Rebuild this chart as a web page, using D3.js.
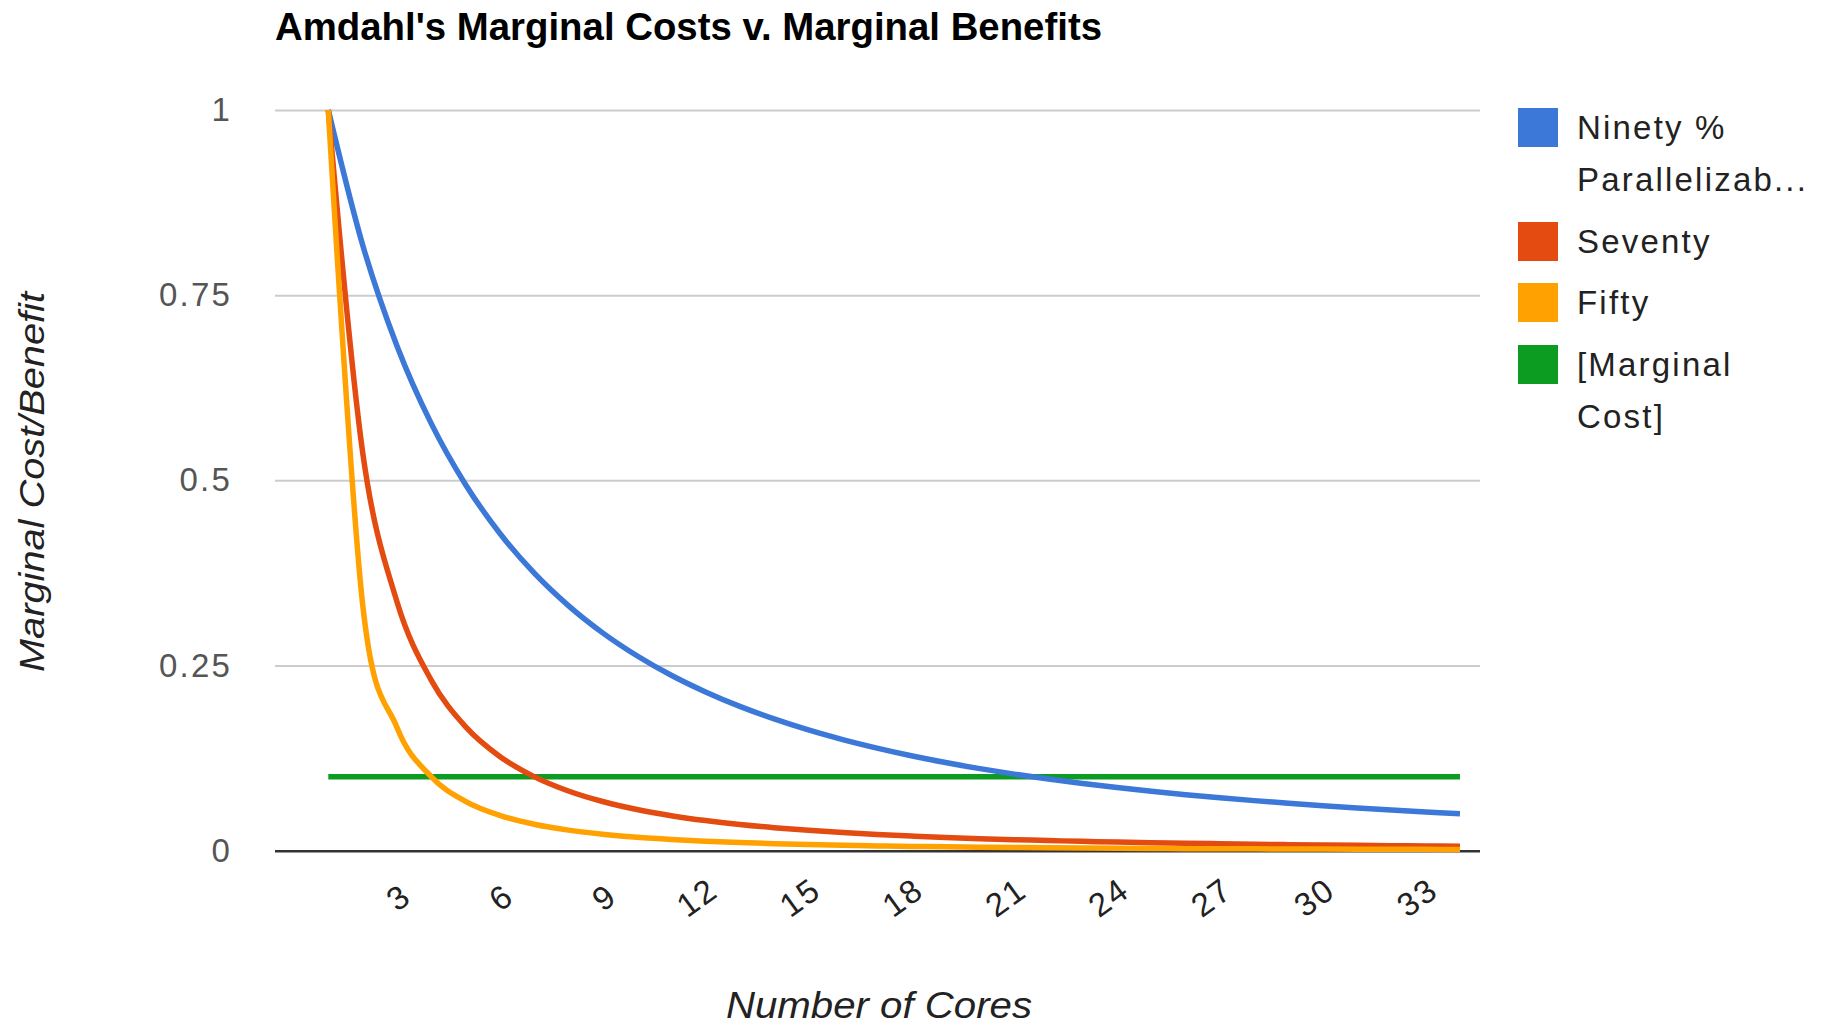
<!DOCTYPE html>
<html>
<head>
<meta charset="utf-8">
<script src="https://cdn.jsdelivr.net/npm/d3@7"></script>
<style>
  html, body { margin: 0; padding: 0; background: #fff; }
  svg { display: block; font-family: "Liberation Sans", Arial, sans-serif; }
</style>
</head>
<body>
<svg id="chart" width="1821" height="1025"></svg>
<script>
// Number of cores on the horizontal axis
const cores = d3.range(1, 35);

// Marginal speed-up gained by each extra core, per parallel fraction
const ninety = [1.0000, 0.8182, 0.6818, 0.5769, 0.4945, 0.4286, 0.3750, 0.3309, 0.2941, 0.2632,
                0.2368, 0.2143, 0.1948, 0.1779, 0.1630, 0.1500, 0.1385, 0.1282, 0.1190, 0.1108,
                0.1034, 0.0968, 0.0907, 0.0852, 0.0802, 0.0756, 0.0714, 0.0676, 0.0640, 0.0607,
                0.0577, 0.0549, 0.0523, 0.0498];
const seventy = [1.0000, 0.5385, 0.3365, 0.2303, 0.1675, 0.1273, 0.1000, 0.0806, 0.0664, 0.0556,
                 0.0473, 0.0407, 0.0354, 0.0311, 0.0275, 0.0245, 0.0219, 0.0198, 0.0179, 0.0163,
                 0.0149, 0.0137, 0.0126, 0.0117, 0.0108, 0.0100, 0.0094, 0.0087, 0.0082, 0.0077,
                 0.0072, 0.0068, 0.0064, 0.0061];
const fifty = [1.0000, 0.3333, 0.1667, 0.1000, 0.0667, 0.0476, 0.0357, 0.0278, 0.0222, 0.0182,
               0.0152, 0.0128, 0.0110, 0.0095, 0.0083, 0.0074, 0.0065, 0.0058, 0.0053, 0.0048,
               0.0043, 0.0040, 0.0036, 0.0033, 0.0031, 0.0028, 0.0026, 0.0025, 0.0023, 0.0022,
               0.0020, 0.0019, 0.0018, 0.0017];
// Flat marginal cost of adding a core
const marginalCost = [0.1, 0.1, 0.1, 0.1, 0.1, 0.1, 0.1, 0.1, 0.1, 0.1,
                      0.1, 0.1, 0.1, 0.1, 0.1, 0.1, 0.1, 0.1, 0.1, 0.1,
                      0.1, 0.1, 0.1, 0.1, 0.1, 0.1, 0.1, 0.1, 0.1, 0.1,
                      0.1, 0.1, 0.1, 0.1];

const seriesNames = [["Ninety %", "Parallelizab..."], ["Seventy"], ["Fifty"], ["[Marginal", "Cost]"]];
const seriesValues = [ninety, seventy, fifty, marginalCost];
const seriesColors = ["#3c78d8", "#e34b11", "#ffa100", "#0c9c22"];

const yTicks = [0, 0.25, 0.5, 0.75, 1];
const xTicks = [3, 6, 9, 12, 15, 18, 21, 24, 27, 30, 33];

const titleText = "Amdahl's Marginal Costs v. Marginal Benefits";
const xTitle = "Number of Cores";
const yTitle = "Marginal Cost/Benefit";

// Plot area
const area = { left: 275, right: 1480, top: 110, bottom: 850.7 };

const svg = d3.select("#chart");

const x = d3.scaleLinear().domain([1, 34]).range([328.3, 1460]);
const y = d3.scaleLinear().domain([0, 1]).range([area.bottom, area.top]);

// Title
svg.append("text")
  .attr("x", area.left)
  .attr("y", 40)
  .attr("font-size", 38.5)
  .attr("font-weight", "bold")
  .attr("fill", "#000")
  .attr("textLength", 827)
  .attr("lengthAdjust", "spacingAndGlyphs")
  .text(titleText);

// Y axis with horizontal gridlines
const yAxis = d3.axisLeft(y)
  .tickValues(yTicks)
  .tickFormat(d3.format("~g"))
  .tickSize(-(area.right - area.left))
  .tickPadding(43);

const gy = svg.append("g")
  .attr("transform", `translate(${area.left},0)`)
  .call(yAxis);
gy.select(".domain").remove();
gy.selectAll(".tick line")
  .attr("stroke", d => d === 0 ? "#333" : "#cccccc")
  .attr("stroke-width", d => d === 0 ? 2.6 : 2);
gy.selectAll(".tick text")
  .attr("font-size", 33)
  .attr("letter-spacing", 2.2)
  .attr("fill", "#555")
  .attr("font-family", "Liberation Sans, Arial, sans-serif");

// X axis labels, slanted
const xAxis = d3.axisBottom(x)
  .tickValues(xTicks)
  .tickFormat(d3.format("d"))
  .tickSize(0);

const gx = svg.append("g")
  .attr("transform", `translate(0,${area.bottom})`)
  .call(xAxis);
gx.select(".domain").remove();
gx.selectAll(".tick text")
  .attr("y", 0)
  .attr("dy", "0.35em")
  .attr("text-anchor", "middle")
  .attr("font-size", 33)
  .attr("letter-spacing", 2)
  .attr("fill", "#222")
  .attr("font-family", "Liberation Sans, Arial, sans-serif")
  .attr("transform", d => `translate(${String(d).length > 1 ? -9 : 1},46.5) rotate(-36)`);

// Axis titles
svg.append("text")
  .attr("x", 726)
  .attr("y", 1018)
  .attr("font-size", 37)
  .attr("font-style", "italic")
  .attr("fill", "#222")
  .attr("textLength", 306)
  .attr("lengthAdjust", "spacingAndGlyphs")
  .text(xTitle);

svg.append("text")
  .attr("transform", `translate(44,672) rotate(-90)`)
  .attr("font-size", 35)
  .attr("font-style", "italic")
  .attr("fill", "#222")
  .attr("textLength", 380)
  .attr("lengthAdjust", "spacingAndGlyphs")
  .text(yTitle);

// Series lines
const line = d3.line()
  .x((d, i) => x(cores[i]))
  .y(d => y(d))
  .curve(d3.curveCardinal.tension(0));

const drawOrder = [3, 0, 1, 2];
svg.append("g")
  .selectAll("path")
  .data(drawOrder)
  .join("path")
  .attr("d", k => line(seriesValues[k]))
  .attr("fill", "none")
  .attr("stroke", k => seriesColors[k])
  .attr("stroke-width", 5.5)
  .attr("stroke-linejoin", "round");

// Legend
const legendTops = [108, 222, 283, 345];
const legend = svg.append("g");
seriesNames.forEach((lines, i) => {
  const top = legendTops[i];
  legend.append("rect")
    .attr("x", 1518)
    .attr("y", top)
    .attr("width", 40)
    .attr("height", 39)
    .attr("fill", seriesColors[i]);
  const t = legend.append("text")
    .attr("font-size", 33)
    .attr("letter-spacing", 2.2)
    .attr("fill", "#222");
  lines.forEach((s, j) => {
    t.append("tspan")
      .attr("x", 1577)
      .attr("y", top + 31 + j * 52)
      .text(s);
  });
});
</script>
</body>
</html>
